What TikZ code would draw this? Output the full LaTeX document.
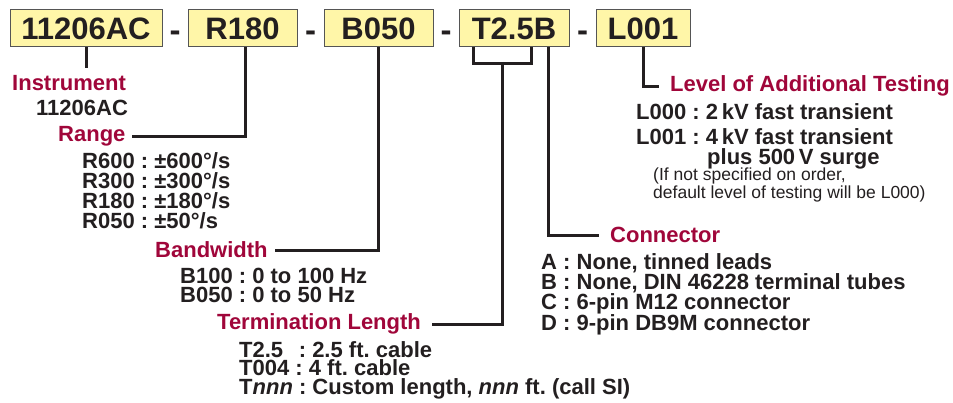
\documentclass[tikz,border=0pt]{standalone}
\usepackage{fontspec}
\setmainfont{Liberation Sans}
\usetikzlibrary{calc, positioning}

\definecolor{ink}{HTML}{231F20}
\definecolor{wine}{HTML}{A0063A}
\definecolor{boxfill}{HTML}{FFF6A8}
\definecolor{boxedge}{HTML}{555555}

\tikzset{
    codebox/.style={draw=boxedge, fill=boxfill, line width=1pt, minimum height=37pt,
        inner sep=0pt, text=ink, font=\fontsize{31}{31}\selectfont\bfseries},
    sepmark/.style={inner sep=0pt, anchor=base, text=ink, font=\fontsize{33}{33}\selectfont\bfseries},
    heading/.style={inner sep=0pt, anchor=base west, text=wine,
        font=\fontsize{22}{22}\selectfont\bfseries},
    choices/.style={inner sep=0pt, anchor=north west, align=left, text=ink,
        font=\fontsize{22}{20}\selectfont\bfseries},
    remark/.style={inner sep=0pt, anchor=north west, align=left, text=ink,
        font=\fontsize{17.5}{15}\selectfont},
    lead/.style={draw=ink, line width=3pt},
}

\begin{document}
\frenchspacing
\begin{tikzpicture}[x=1pt, y=-1pt]

    \useasboundingbox (0,0) rectangle (953,403);

    %% Part number

    % Boxes
    \node[codebox, minimum width=152pt] (inst) at (86,28.5) {11206AC};
    \node[codebox, minimum width=109pt] (range) at (242.5,28.5) {R180};
    \node[codebox, minimum width=109pt] (bw) at (378.5,28.5) {B050};
    \node[codebox, minimum width=110pt] (tlen) at (514,28.5) {T2.5B};
    \node[codebox, minimum width=94pt] (lvl) at (643,28.5) {L001};

    % Separators
    \node[sepmark] (sep1) at ($(inst.east)!.5!(range.west)+(0,13)$) {-};
    \node[sepmark] (sep2) at ($(range.east)!.5!(bw.west)+(0,13)$) {-};
    \node[sepmark] (sep3) at ($(bw.east)!.5!(tlen.west)+(0,13)$) {-};
    \node[sepmark] (sep4) at ($(tlen.east)!.5!(lvl.west)+(0,13)$) {-};

    %% Fields

    % Instrument
    \node[heading] (instlbl) at (12,91) {Instrument};
    \node[choices] (instval) at (36,100) {11206AC};
    \draw[lead] (inst.south) -- ++(0,21);

    % Range
    \node[heading] (rangelbl) at (58,142) {Range};
    \node[choices] (rangeval) at (82,152) {R600 : ±600°/s\\R300 : ±300°/s\\R180 : ±180°/s\\R050 : ±50°/s};
    \draw[lead] ([xshift=2.5pt]range.south) |- ([xshift=6pt]rangelbl.east);

    % Bandwidth
    \node[heading] (bwlbl) at (155,258) {Bandwidth};
    \node[choices, font=\fontsize{22}{19}\selectfont\bfseries] (bwval) at (180,268) {B100 : 0 to 100 Hz\\B050 : 0 to 50 Hz};
    \draw[lead] (bw.south) |- ([xshift=7pt]bwlbl.east);

    % Termination length
    \node[heading] (termlbl) at (217,330) {Termination Length};
    \node[choices, font=\fontsize{22}{18.5}\selectfont\bfseries] (termval) at (239,341) {T2.5\hspace{9.5pt} : 2.5 ft. cable\\T004 : 4 ft. cable\\T\textit{nnn} : Custom length, \textit{nnn} ft. (call SI)};
    \coordinate (tleft) at ([xshift=15pt]tlen.south west);
    \coordinate (tright) at ([xshift=73pt]tlen.south west);
    \coordinate (tjoin) at ([xshift=44pt]tlen.south west);
    \draw[lead] (tleft) -- ++(0,16) -| (tright);
    \draw[lead] (tjoin) ++(0,14.5) |- ([xshift=11pt]termlbl.east);

    % Connector
    \node[heading] (connlbl) at (610,243) {Connector};
    \node[choices] (connval) at (541,253) {A : None, tinned leads\\B : None, DIN 46228 terminal tubes\\C : 6-pin M12 connector\\D : 9-pin DB9M connector};
    \draw[lead] ([xshift=-21pt]tlen.south east) |- ([xshift=-11pt]connlbl.west);

    % Level of additional testing
    \node[heading] (ltestlbl) at (670,92) {Level of Additional Testing};
    \node[choices, font=\fontsize{22}{20.5}\selectfont\bfseries] (ltestval) at (636,103) {L000 : 2\,kV fast transient\\[4.5pt]L001 : 4\,kV fast transient\\\hspace*{71pt}plus 500\,V surge};
    \node[remark] (ltestnote) at (653,168) {(If not specified on order,\\default level of testing will be L000)};
    \draw[lead] (lvl.south) |- ([xshift=-11pt]ltestlbl.west);

\end{tikzpicture}
\end{document}
